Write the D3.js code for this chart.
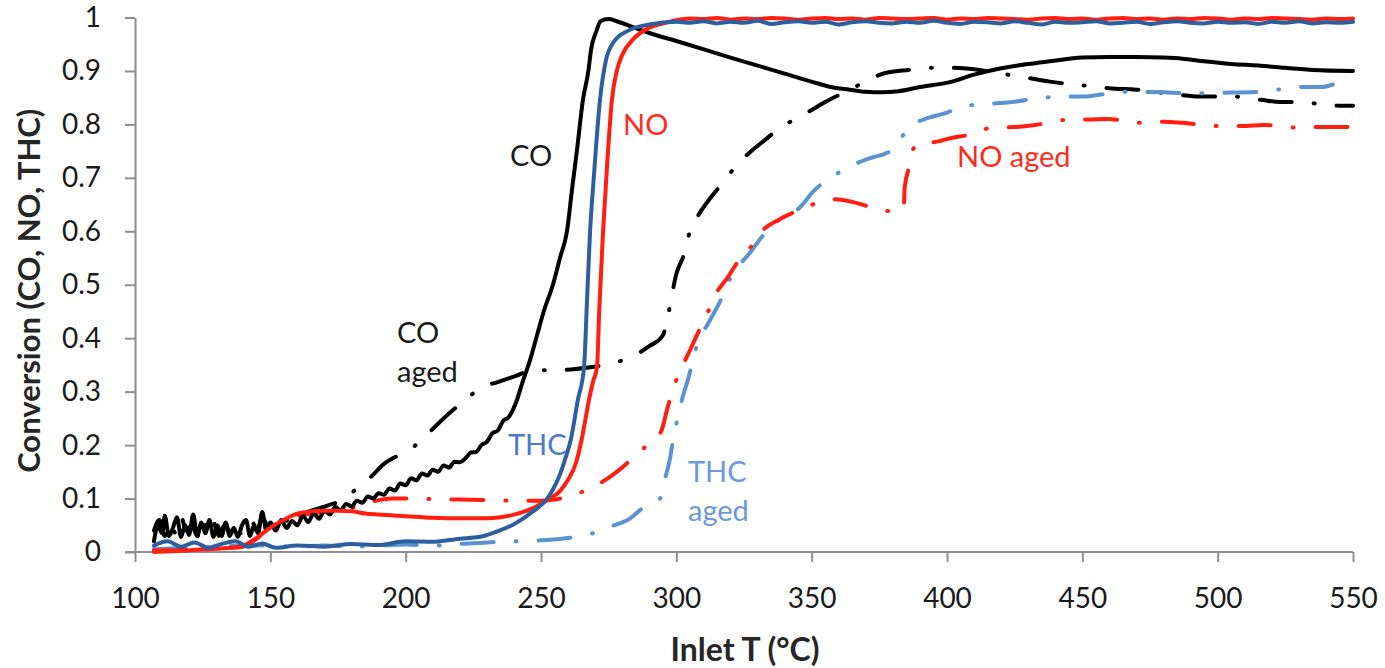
<!DOCTYPE html>
<html>
<head>
<meta charset="utf-8">
<script src="https://cdn.jsdelivr.net/npm/d3@7"></script>
<style>
  html, body { margin: 0; padding: 0; background: #fff; }
  svg { display: block; font-family: Lato, "Open Sans", sans-serif; }
</style>
</head>
<body>
<svg id="chart" width="1385" height="668"></svg>
<script>
// ---- Light-off data: conversion vs inlet temperature ----
const xTicks = [100, 150, 200, 250, 300, 350, 400, 450, 500, 550];
const yTicks = [0, 0.1, 0.2, 0.3, 0.4, 0.5, 0.6, 0.7, 0.8, 0.9, 1];
const yTickLabels = ["0", "0.1", "0.2", "0.3", "0.4", "0.5", "0.6", "0.7", "0.8", "0.9", "1"];

// CO, fresh catalyst
const coT = [107,108.5,110,111,112.5,114,115.5,117,118.5,120,121.5,123,124.5,126,127.5,129,130.5,132,133.5,135,136.5,138,139.5,141,142.5,144,145.5,147,148.5,150,152,154,156,158,160,162,164,166,168,170,172,174,176,178,180,182,184,186,188,190,192,194,196,198,200,202,204,206,208,210,212,214,216,218,220,222.6,224,226,228,230,232,234,236,238,241,243,246,248.5,251,254.4,257,259.6,261.5,263.3,265.5,267.5,268.5,270.5,272,275,278,284,290,300,320,340,352,358,364,370,376,382,390,401,410,420,430,438,450,460,470,480,487,495,505,515,524,535,550];
const coV = [0.02,0.05,0.035,0.068,0.03,0.045,0.065,0.028,0.05,0.032,0.07,0.03,0.055,0.035,0.06,0.028,0.05,0.03,0.055,0.03,0.045,0.028,0.05,0.06,0.03,0.05,0.035,0.075,0.04,0.055,0.04,0.06,0.045,0.058,0.05,0.068,0.056,0.072,0.062,0.078,0.07,0.084,0.078,0.09,0.085,0.096,0.092,0.104,0.1,0.11,0.107,0.119,0.115,0.128,0.125,0.138,0.134,0.147,0.143,0.154,0.15,0.162,0.158,0.169,0.168,0.178,0.186,0.187,0.2,0.206,0.222,0.227,0.245,0.252,0.283,0.315,0.36,0.405,0.45,0.5,0.55,0.6,0.68,0.752,0.846,0.9,0.94,0.975,0.993,0.997,0.993,0.982,0.971,0.956,0.925,0.895,0.877,0.869,0.865,0.861,0.86,0.862,0.87,0.879,0.893,0.905,0.913,0.918,0.925,0.926,0.926,0.925,0.923,0.918,0.913,0.91,0.906,0.902,0.9];

// THC, fresh catalyst
const thcT = [107,112,117,122,127,132,137,142,147,152,160,170,180,190,200,210,220,227,234.6,240,246.8,252,254,257,259,261,263.6,265.9,267,268.1,269.5,271.8,274,277,282,290,
  300,305,310,315,320,325,330,335,340,345,350,355,360,365,370,375,380,385,390,395,400,405,410,415,420,425,430,435,440,445,450,455,460,465,470,475,480,485,490,495,500,505,510,515,520,525,530,535,540,545,550];
const thcV = [0.012,0.02,0.01,0.018,0.008,0.015,0.02,0.01,0.016,0.008,0.012,0.01,0.015,0.013,0.02,0.019,0.025,0.028,0.04,0.052,0.075,0.098,0.113,0.145,0.175,0.21,0.284,0.346,0.47,0.597,0.7,0.846,0.92,0.955,0.975,0.987,
  0.992,0.99,0.993,0.989,0.992,0.99,0.994,0.988,0.991,0.993,0.99,0.992,0.987,0.991,0.993,0.99,0.989,0.992,0.99,0.994,0.99,0.988,0.992,0.991,0.989,0.993,0.99,0.987,0.992,0.99,0.991,0.993,0.989,0.99,0.992,0.988,0.991,0.993,0.99,0.989,0.992,0.99,0.991,0.988,0.992,0.99,0.993,0.989,0.991,0.99,0.992];

// NO, fresh catalyst
const noT = [107,115,120,125,130,135,140,143,146,149,152,155,158,161,165,170,175,180,185,190,200,210,220,230,235,240,245,250,254,257,260,263,265,266.8,267.7,269.3,270.7,271.5,272.9,274.5,276.2,278,280,284,290,296,
  300,305,310,315,320,325,330,335,340,345,350,355,360,365,370,375,380,385,390,395,400,405,410,415,420,425,430,435,440,445,450,455,460,465,470,475,480,485,490,495,500,505,510,515,520,525,530,535,540,545,550];
const noV = [0,0.002,0.003,0.005,0.006,0.008,0.012,0.02,0.03,0.042,0.052,0.06,0.068,0.073,0.076,0.077,0.077,0.076,0.072,0.07,0.067,0.064,0.063,0.063,0.065,0.07,0.078,0.09,0.102,0.114,0.135,0.168,0.21,0.259,0.284,0.32,0.346,0.45,0.597,0.73,0.846,0.9,0.93,0.959,0.981,0.99,
  0.995,0.998,0.997,0.999,0.996,0.998,0.997,0.999,0.998,0.996,0.998,0.999,0.997,0.998,0.996,0.999,0.998,0.997,0.998,0.999,0.996,0.998,0.997,0.999,0.998,0.997,0.996,0.998,0.999,0.997,0.998,0.996,0.998,0.999,0.997,0.998,0.996,0.998,0.997,0.999,0.998,0.996,0.998,0.997,0.999,0.998,0.997,0.996,0.998,0.997,0.998];

// CO, aged catalyst
const coAgedT = [107,109,111,113,115,117,119,121,123,125,127,129,131,133,135,137,139,141,143,145,147,149,152,155,158,161,164,167,170,173,176,179,183,187,192,197,202,207.5,216,221.7,228,234,241,246.6,256,262,269,276,283,290,295,297,300,303,305,308.6,313,318,322,327,333,339,345.5,352,358,363,371,378,386,393.6,400,410,420,430,438,446,454,461,470,478,485,493,506,516,523,530,538,545,550];
const coAgedV = [0.04,0.06,0.03,0.055,0.035,0.065,0.04,0.05,0.03,0.06,0.035,0.055,0.03,0.05,0.04,0.055,0.035,0.05,0.06,0.04,0.065,0.05,0.06,0.055,0.07,0.065,0.075,0.08,0.085,0.09,0.095,0.105,0.125,0.14,0.165,0.18,0.193,0.218,0.259,0.283,0.308,0.318,0.33,0.34,0.34,0.342,0.346,0.353,0.364,0.385,0.405,0.445,0.52,0.559,0.6,0.634,0.665,0.696,0.722,0.747,0.772,0.796,0.814,0.833,0.85,0.861,0.884,0.897,0.902,0.906,0.906,0.903,0.895,0.887,0.88,0.875,0.871,0.867,0.865,0.86,0.856,0.852,0.852,0.846,0.842,0.842,0.838,0.835,0.835];

// THC, aged catalyst
const thcAgedT = [107,120,130,140,150,160,170,180,190,200,210,220,230,240,250,260,271.6,276.4,282.7,287,292,294,295.6,297.5,299,302.3,304.5,306.7,313,316,319,328,331.5,337,345.5,350.7,356.6,362,367,373,377,379.6,383,387.3,393,400,405,411,419.5,424,435,443.6,450,465,470,480,490,498,516,522,531.6,538.6,545,550];
const thcAgedV = [0.005,0.008,0.01,0.012,0.012,0.01,0.012,0.01,0.012,0.014,0.012,0.015,0.018,0.02,0.022,0.026,0.039,0.049,0.062,0.08,0.095,0.1,0.133,0.171,0.214,0.289,0.326,0.371,0.439,0.467,0.503,0.565,0.589,0.617,0.644,0.675,0.7,0.715,0.728,0.739,0.745,0.752,0.775,0.799,0.812,0.822,0.833,0.837,0.84,0.842,0.85,0.852,0.852,0.861,0.861,0.86,0.858,0.859,0.861,0.865,0.87,0.87,0.878,0.88];

// NO, aged catalyst
const noAgedT = [107,120,130,140,145,150,155,160,165,170,175,180,185,190,195,200,210,220,230,240,250,255,260,265,271.6,278,284,289,294.5,296.5,298.6,301.5,305,308,311.5,314.5,319,323,328,332,338,345.5,352,358.5,365,372,378,384,384.4,386,387.3,390,395.5,402,407.6,417,425,432.5,445.5,452,459,472,480.5,487,500,509,517,529,535,550];
const noAgedV = [0.003,0.004,0.006,0.01,0.025,0.045,0.058,0.067,0.072,0.075,0.078,0.082,0.09,0.097,0.1,0.1,0.099,0.098,0.097,0.096,0.096,0.098,0.104,0.112,0.128,0.15,0.176,0.199,0.227,0.265,0.302,0.34,0.377,0.41,0.447,0.482,0.514,0.545,0.574,0.602,0.622,0.64,0.653,0.66,0.655,0.645,0.638,0.643,0.683,0.72,0.752,0.765,0.767,0.775,0.78,0.794,0.795,0.799,0.809,0.809,0.81,0.803,0.805,0.803,0.797,0.797,0.799,0.794,0.795,0.795];

// ---- layout ----
const svg = d3.select("#chart");
const x = d3.scaleLinear().domain([100, 550]).range([135, 1353]);
const y = d3.scaleLinear().domain([0, 1]).range([552, 17.5]);

const axisColor = "#8e8e8e";
const tickFont = 28;

// y axis
const gy = svg.append("g")
  .attr("transform", `translate(${x(100)},0)`)
  .call(d3.axisLeft(y).tickValues(yTicks).tickFormat((d, i) => yTickLabels[i])
    .tickSize(10).tickSizeOuter(0).tickPadding(24));
// x axis
const gx = svg.append("g")
  .attr("transform", `translate(0,${y(0)})`)
  .call(d3.axisBottom(x).tickValues(xTicks).tickFormat(d3.format("d"))
    .tickSize(10).tickSizeOuter(0).tickPadding(26));

[gx, gy].forEach(g => {
  g.select(".domain").attr("stroke", axisColor).attr("stroke-width", 2);
  g.selectAll(".tick line").attr("stroke", axisColor).attr("stroke-width", 2);
  g.selectAll(".tick text").attr("fill", "#1a1a1a")
    .style("font-size", tickFont + "px").style("font-family", "Lato, sans-serif");
});
// extend the x axis line left to the y tick marks
gx.select(".domain").attr("d", `M${x(100) - 10},0H${x(550)}`);

// axis titles
svg.append("text")
  .attr("transform", `translate(28,${y(0.5) + 6}) rotate(-90)`)
  .attr("text-anchor", "middle")
  .attr("dominant-baseline", "central")
  .style("font-size", "31px").style("font-weight", "bold").attr("fill", "#262626")
  .text("Conversion (CO, NO, THC)");
svg.append("text")
  .attr("x", 745).attr("y", 661)
  .attr("text-anchor", "middle")
  .style("font-size", "32px").style("font-weight", "bold").attr("fill", "#262626")
  .text("Inlet T (°C)");

// ---- series ----
const zip = (T, V) => T.map((t, i) => ({ t, v: V[i] }));
const series = [
  { name: "CO aged",  data: zip(coAgedT, coAgedV),   color: "#000000", dash: true },
  { name: "THC aged", data: zip(thcAgedT, thcAgedV), color: "#5b93d0", dash: true },
  { name: "NO aged",  data: zip(noAgedT, noAgedV),   color: "#ff1e10", dash: true },
  { name: "CO",       data: zip(coT, coV),           color: "#000000", dash: false },
  { name: "NO",       data: zip(noT, noV),           color: "#ff1e10", dash: false },
  { name: "THC",      data: zip(thcT, thcV),         color: "#2d5f9e", dash: false }
];

const line = d3.line().x(d => x(d.t)).y(d => y(d.v)).curve(d3.curveMonotoneX);

svg.append("g").selectAll("path").data(series).join("path")
  .attr("d", d => line(d.data))
  .attr("fill", "none")
  .attr("stroke", d => d.color)
  .attr("stroke-width", 4)
  .attr("stroke-linejoin", "round")
  .attr("stroke-linecap", "round")
  .attr("stroke-dasharray", d => d.dash ? "32 22 1 22" : null);

// ---- curve labels ----
const labels = [
  { lines: ["CO"],         x: 510, y: 166, color: "#1a1a1a" },
  { lines: ["NO"],         x: 623, y: 135, color: "#ff2a1c" },
  { lines: ["CO", "aged"], x: 397, y: 343, color: "#1a1a1a" },
  { lines: ["THC"],        x: 508, y: 455, color: "#4a78d4" },
  { lines: ["THC", "aged"],x: 688, y: 482, color: "#6b98de" },
  { lines: ["NO aged"],    x: 957, y: 167, color: "#ff2a1c" }
];
const lg = svg.append("g").style("font-size", "29px").style("font-family", "Lato, sans-serif");
labels.forEach(l => {
  const t = lg.append("text").attr("fill", l.color);
  l.lines.forEach((s, i) => {
    t.append("tspan").attr("x", l.x).attr("y", l.y + i * 39).text(s);
  });
});
</script>
</body>
</html>
